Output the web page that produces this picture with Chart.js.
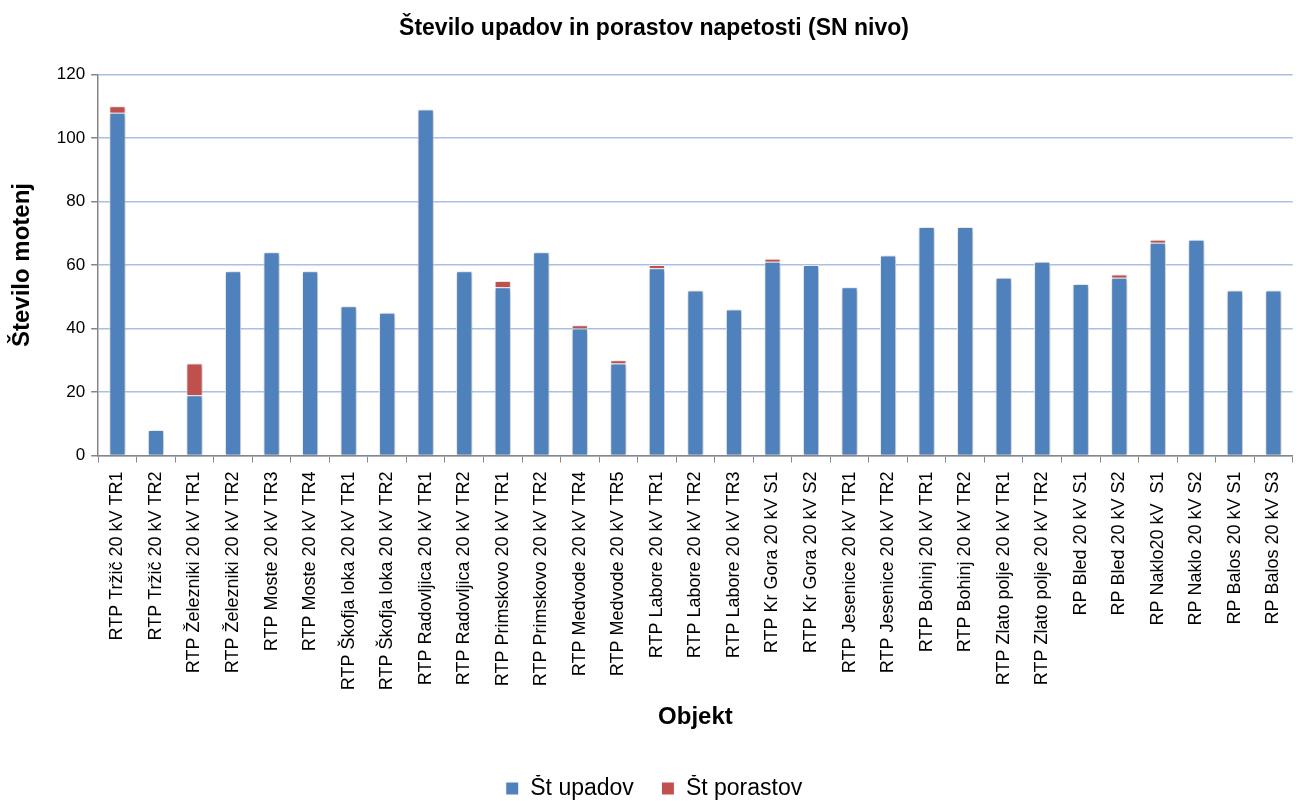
<!DOCTYPE html>
<html>
<head>
<meta charset="utf-8">
<script src="https://cdn.jsdelivr.net/npm/chart.js@4.4.1/dist/chart.umd.min.js"></script>
<style>
  html, body { margin: 0; padding: 0; background: #fff; }
  #wrap { width: 1304px; height: 801px; position: relative; }
</style>
</head>
<body>
<div id="wrap"><canvas id="chart"></canvas></div>
<script>
// Data
const categories = [
    'RTP Tržič 20 kV TR1', 'RTP Tržič 20 kV TR2', 'RTP Železniki 20 kV TR1', 'RTP Železniki 20 kV TR2',
    'RTP Moste 20 kV TR3', 'RTP Moste 20 kV TR4', 'RTP Škofja loka 20 kV TR1', 'RTP Škofja loka 20 kV TR2',
    'RTP Radovljica 20 kV TR1', 'RTP Radovljica 20 kV TR2', 'RTP Primskovo 20 kV TR1', 'RTP Primskovo 20 kV TR2',
    'RTP Medvode 20 kV TR4', 'RTP Medvode 20 kV TR5', 'RTP Labore 20 kV TR1', 'RTP Labore 20 kV TR2',
    'RTP Labore 20 kV TR3', 'RTP Kr Gora 20 kV S1', 'RTP Kr Gora 20 kV S2', 'RTP Jesenice 20 kV TR1',
    'RTP Jesenice 20 kV TR2', 'RTP Bohinj 20 kV TR1', 'RTP Bohinj 20 kV TR2', 'RTP Zlato polje 20 kV TR1',
    'RTP Zlato polje 20 kV TR2', 'RP Bled 20 kV S1', 'RP Bled 20 kV S2', 'RP Naklo20 kV  S1',
    'RP Naklo 20 kV S2', 'RP Balos 20 kV S1', 'RP Balos 20 kV S3'
];
const upadi = [108, 8, 19, 58, 64, 58, 47, 45, 109, 58, 53, 64, 40, 29, 59, 52, 46, 61, 60, 53, 63, 72, 72, 56, 61, 54, 56, 67, 68, 52, 52];
const porasti = [2, 0, 10, 0, 0, 0, 0, 0, 0, 0, 2, 0, 1, 1, 1, 0, 0, 1, 0, 0, 0, 0, 0, 0, 0, 0, 1, 1, 0, 0, 0];
const yTicks = [0, 20, 40, 60, 80, 100, 120];

const FONT = "'Liberation Sans', Arial, sans-serif";

// soft shadow behind bars, like the original
const barShadow = {
    id: 'barShadow',
    beforeDatasetsDraw(chart) {
        const ctx = chart.ctx;
        ctx.save();
        ctx.shadowColor = 'rgba(0,0,0,0.35)';
        ctx.shadowBlur = 5;
        ctx.shadowOffsetX = 1;
        ctx.shadowOffsetY = 1;
    },
    afterDatasetsDraw(chart) {
        chart.ctx.restore();
    }
};

// pull the legend a bit closer to the bottom edge
const legendShift = {
    id: 'legendShift',
    afterInit(chart) {
        const legend = chart.legend;
        if (!legend) return;
        const fit = legend.fit;
        legend.fit = function() {
            fit.call(this);
            this.height -= 9;
        };
    }
};

new Chart(document.getElementById('chart'), {
    type: 'bar',
    data: {
        labels: categories,
        datasets: [{
            label: 'Št upadov',
            data: upadi,
            backgroundColor: '#4f81bd',
            borderColor: '#ffffff',
            borderWidth: 1,
            barPercentage: 0.42,
            categoryPercentage: 1
        }, {
            label: 'Št porastov',
            data: porasti,
            backgroundColor: '#c0504d',
            borderColor: '#ffffff',
            borderWidth: 1,
            barPercentage: 0.42,
            categoryPercentage: 1
        }]
    },
    options: {
        responsive: true,
        maintainAspectRatio: false,
        animation: false,
        layout: { padding: { top: 8, right: 0, left: 4, bottom: 0 } },
        plugins: {
            title: {
                display: true,
                text: 'Število upadov in porastov napetosti (SN nivo)',
                color: '#000',
                font: { family: FONT, size: 23, weight: 'bold' },
                padding: { top: 7, bottom: 32 }
            },
            legend: {
                position: 'bottom',
                labels: {
                    color: '#000',
                    font: { family: FONT, size: 23 },
                    boxWidth: 13,
                    boxHeight: 13,
                    padding: 2,
                    // wider gap between the two legend items
                    generateLabels(chart) {
                        const items = Chart.defaults.plugins.legend.labels.generateLabels(chart);
                        if (items.length) items[0].text = items[0].text + '    ';
                        return items;
                    }
                }
            },
            tooltip: { enabled: false }
        },
        scales: {
            x: {
                stacked: true,
                grid: {
                    offset: true,
                    drawOnChartArea: false,
                    color: '#868686',
                    tickLength: 7
                },
                border: { color: '#868686', width: 1.5 },
                ticks: {
                    color: '#000',
                    font: { family: FONT, size: 18 },
                    maxRotation: 90,
                    minRotation: 90,
                    autoSkip: false,
                    padding: 9
                },
                title: {
                    display: true,
                    text: 'Objekt',
                    color: '#000',
                    font: { family: FONT, size: 24, weight: 'bold' },
                    padding: { top: 4, bottom: 43 }
                }
            },
            y: {
                stacked: true,
                min: 0,
                max: 120,
                afterBuildTicks(axis) {
                    axis.ticks = yTicks.map(v => ({ value: v }));
                },
                grid: {
                    color: '#a9c0e4',
                    lineWidth: 1.5,
                    tickColor: '#868686',
                    tickLength: 7
                },
                border: { color: '#868686', width: 1.5 },
                ticks: {
                    color: '#000',
                    font: { family: FONT, size: 17 },
                    padding: 6
                },
                title: {
                    display: true,
                    text: 'Število motenj',
                    color: '#000',
                    font: { family: FONT, size: 24, weight: 'bold' },
                    padding: { bottom: 14 }
                }
            }
        }
    },
    plugins: [barShadow, legendShift]
});
</script>
</body>
</html>
